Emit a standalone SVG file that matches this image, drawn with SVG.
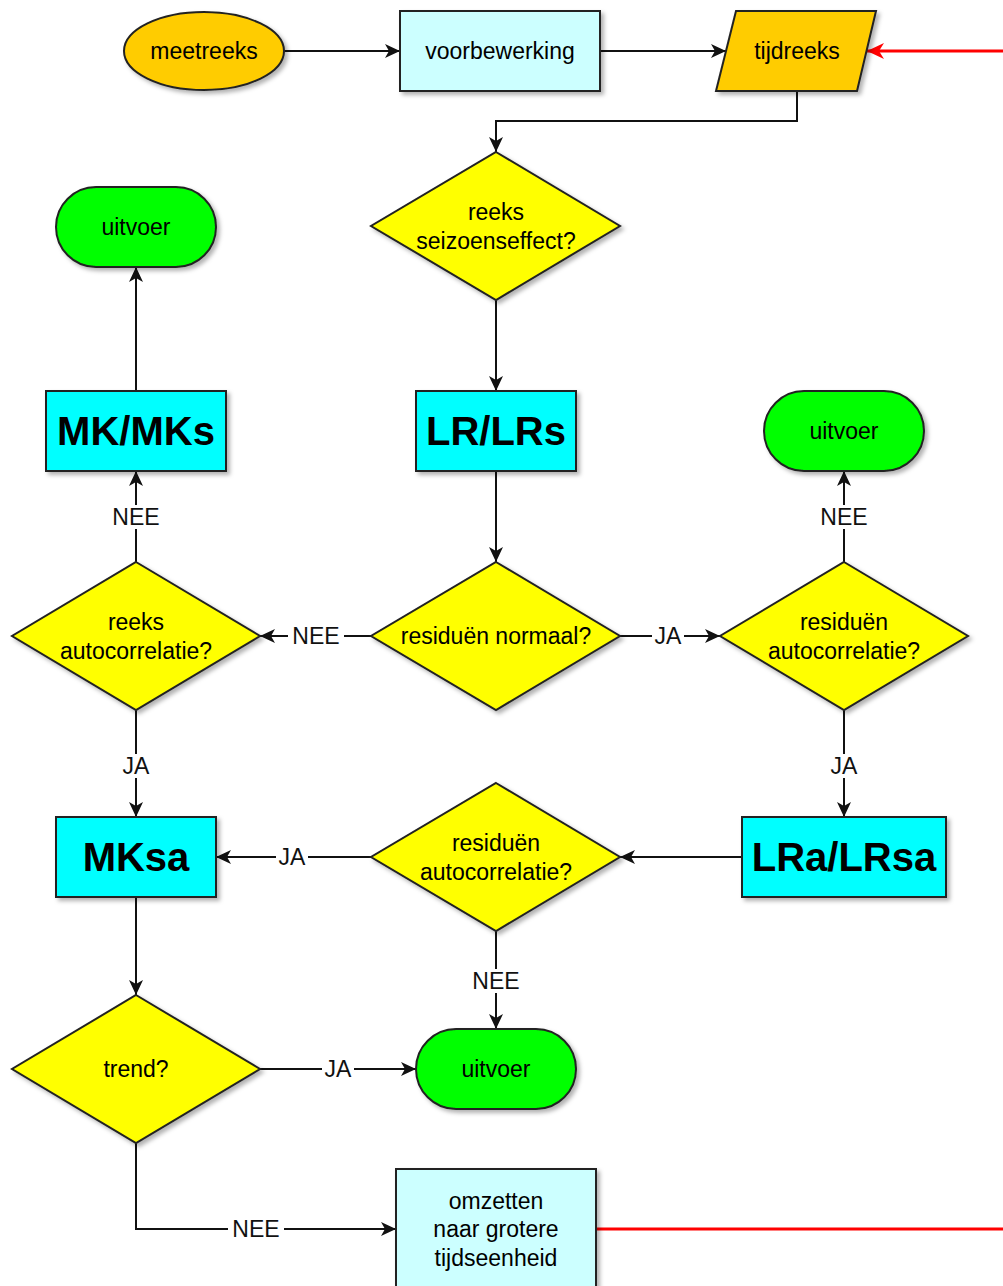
<svg xmlns="http://www.w3.org/2000/svg" width="1003" height="1286" viewBox="0 0 1003 1286">
<style>
  text { font-family: "Liberation Sans", Arial, sans-serif; font-size: 23px; fill: #000; text-anchor: middle; }
  .big { font-size: 40px; font-weight: bold; }
  .node { stroke: #222; stroke-width: 2; filter: url(#sh); }
  .orange { fill: #FFCC00; }
  .pale { fill: #CCFFFF; }
  .cyan { fill: #00FFFF; }
  .yellow { fill: #FFFF00; }
  .green { fill: #00FF00; }
  .edge { fill: none; stroke: #111; stroke-width: 2; }
  .red { fill: none; stroke: #FF0000; stroke-width: 3; }
  .lblbg { fill: #fff; }
  .lbl { fill: #111; }
</style>
<defs>
  <filter id="sh" x="-20%" y="-20%" width="150%" height="150%">
    <feDropShadow dx="3" dy="3" stdDeviation="2" flood-color="#000" flood-opacity="0.3"/>
  </filter>
  <marker id="arr" markerUnits="userSpaceOnUse" markerWidth="18" markerHeight="18" refX="16" refY="8" orient="auto">
    <path d="M1,1 L16,8 L1,15 L5,8 Z" fill="#111"/>
  </marker>
  <marker id="arrRed" markerUnits="userSpaceOnUse" markerWidth="20" markerHeight="20" refX="18" refY="9" orient="auto">
    <path d="M1,1 L18,9 L1,17 L6,9 Z" fill="#FF0000"/>
  </marker>
</defs>

<g id="connectors">
  <path class="edge" d="M284,51 L400,51" marker-end="url(#arr)"/>
  <path class="edge" d="M600,51 L726,51" marker-end="url(#arr)"/>
  <path class="red" d="M1003,51 L867,51" marker-end="url(#arrRed)"/>
  <path class="edge" d="M797,91 L797,121 L496,121 L496,152" marker-end="url(#arr)"/>
  <path class="edge" d="M496,300 L496,391" marker-end="url(#arr)"/>
  <path class="edge" d="M496,471 L496,562" marker-end="url(#arr)"/>
  <path class="edge" d="M371,636 L260,636" marker-end="url(#arr)"/>
  <path class="edge" d="M620,636 L720,636" marker-end="url(#arr)"/>
  <path class="edge" d="M136,562 L136,471" marker-end="url(#arr)"/>
  <path class="edge" d="M136,391 L136,267" marker-end="url(#arr)"/>
  <path class="edge" d="M844,562 L844,471" marker-end="url(#arr)"/>
  <path class="edge" d="M136,710 L136,817" marker-end="url(#arr)"/>
  <path class="edge" d="M844,710 L844,817" marker-end="url(#arr)"/>
  <path class="edge" d="M742,857 L620,857" marker-end="url(#arr)"/>
  <path class="edge" d="M371,857 L216,857" marker-end="url(#arr)"/>
  <path class="edge" d="M496,931 L496,1029" marker-end="url(#arr)"/>
  <path class="edge" d="M136,897 L136,995" marker-end="url(#arr)"/>
  <path class="edge" d="M260,1069 L416,1069" marker-end="url(#arr)"/>
  <path class="edge" d="M136,1143 L136,1229 L396,1229" marker-end="url(#arr)"/>
  <path class="red" d="M596,1229 L1003,1229"/>

  <rect class="lblbg" x="288" y="624" width="56" height="24"/>
  <text class="lbl" x="316" y="644">NEE</text>
  <rect class="lblbg" x="652" y="624" width="32" height="24"/>
  <text class="lbl" x="668" y="644">JA</text>
  <rect class="lblbg" x="108" y="505" width="56" height="24"/>
  <text class="lbl" x="136" y="525">NEE</text>
  <rect class="lblbg" x="816" y="505" width="56" height="24"/>
  <text class="lbl" x="844" y="525">NEE</text>
  <rect class="lblbg" x="120" y="754" width="32" height="24"/>
  <text class="lbl" x="136" y="774">JA</text>
  <rect class="lblbg" x="828" y="754" width="32" height="24"/>
  <text class="lbl" x="844" y="774">JA</text>
  <rect class="lblbg" x="276" y="845" width="32" height="24"/>
  <text class="lbl" x="292" y="865">JA</text>
  <rect class="lblbg" x="468" y="969" width="56" height="24"/>
  <text class="lbl" x="496" y="989">NEE</text>
  <rect class="lblbg" x="322" y="1057" width="32" height="24"/>
  <text class="lbl" x="338" y="1077">JA</text>
  <rect class="lblbg" x="228" y="1217" width="56" height="24"/>
  <text class="lbl" x="256" y="1237">NEE</text>
</g>

<g id="meetreeks">
  <ellipse class="node orange" cx="204" cy="51" rx="80" ry="39"/>
  <text x="204" y="59">meetreeks</text>
</g>
<g id="voorbewerking">
  <rect class="node pale" x="400" y="11" width="200" height="80"/>
  <text x="500" y="59">voorbewerking</text>
</g>
<g id="tijdreeks">
  <polygon class="node orange" points="736,11 876,11 857,91 716,91"/>
  <text x="797" y="59">tijdreeks</text>
</g>
<g id="seizoenseffect">
  <polygon class="node yellow" points="496,152 620,226 496,300 371,226"/>
  <text x="496" y="220">reeks</text>
  <text x="496" y="249">seizoenseffect?</text>
</g>
<g id="uitvoer1">
  <rect class="node green" x="56" y="187" width="160" height="80" rx="40" ry="40"/>
  <text x="136" y="235">uitvoer</text>
</g>
<g id="mkmks">
  <rect class="node cyan" x="46" y="391" width="180" height="80"/>
  <text class="big" x="136" y="445">MK/MKs</text>
</g>
<g id="lrlrs">
  <rect class="node cyan" x="416" y="391" width="160" height="80"/>
  <text class="big" x="496" y="445">LR/LRs</text>
</g>
<g id="uitvoer2">
  <rect class="node green" x="764" y="391" width="160" height="80" rx="40" ry="40"/>
  <text x="844" y="439">uitvoer</text>
</g>
<g id="reeksautocorrelatie">
  <polygon class="node yellow" points="136,562 260,636 136,710 12,636"/>
  <text x="136" y="630">reeks</text>
  <text x="136" y="659">autocorrelatie?</text>
</g>
<g id="residuennormaal">
  <polygon class="node yellow" points="496,562 620,636 496,710 371,636"/>
  <text x="496" y="644">residuën normaal?</text>
</g>
<g id="residuenautocorrelatie1">
  <polygon class="node yellow" points="844,562 968,636 844,710 720,636"/>
  <text x="844" y="630">residuën</text>
  <text x="844" y="659">autocorrelatie?</text>
</g>
<g id="mksa">
  <rect class="node cyan" x="56" y="817" width="160" height="80"/>
  <text class="big" x="136" y="871">MKsa</text>
</g>
<g id="residuenautocorrelatie2">
  <polygon class="node yellow" points="496,783 620,857 496,931 371,857"/>
  <text x="496" y="851">residuën</text>
  <text x="496" y="880">autocorrelatie?</text>
</g>
<g id="lralrsa">
  <rect class="node cyan" x="742" y="817" width="204" height="80"/>
  <text class="big" x="844" y="871">LRa/LRsa</text>
</g>
<g id="trend">
  <polygon class="node yellow" points="136,995 260,1069 136,1143 12,1069"/>
  <text x="136" y="1077">trend?</text>
</g>
<g id="uitvoer3">
  <rect class="node green" x="416" y="1029" width="160" height="80" rx="40" ry="40"/>
  <text x="496" y="1077">uitvoer</text>
</g>
<g id="omzetten">
  <rect class="node pale" x="396" y="1169" width="200" height="122"/>
  <text x="496" y="1209">omzetten</text>
  <text x="496" y="1237">naar grotere</text>
  <text x="496" y="1266">tijdseenheid</text>
</g>
</svg>
